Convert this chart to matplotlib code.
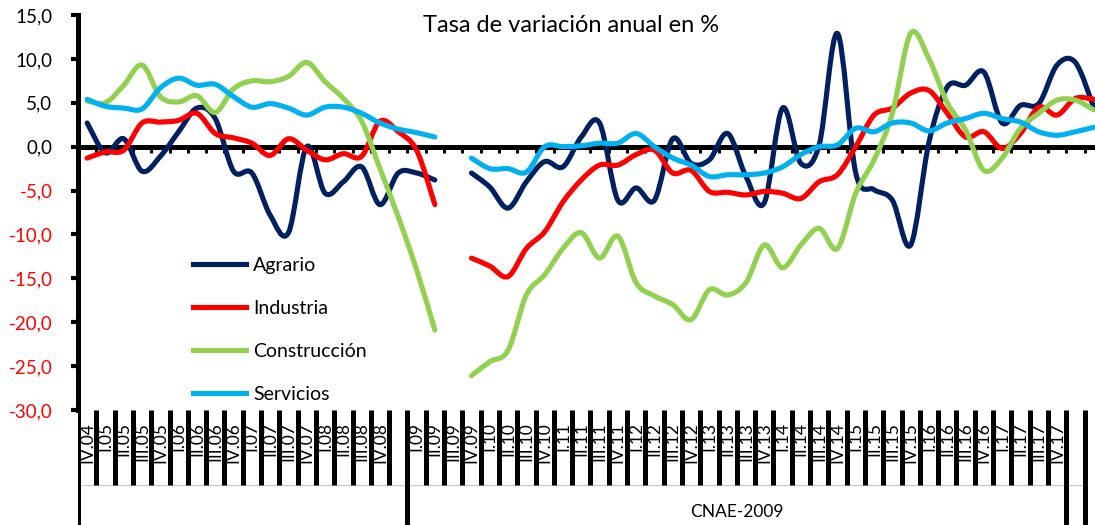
import numpy as np
import matplotlib.pyplot as plt
from matplotlib.path import Path
from matplotlib.patches import PathPatch
from matplotlib.lines import Line2D

plt.rcParams['font.family'] = ['Lato', 'DejaVu Sans']

nan = np.nan
# quarterly series, IV.04 ... (gap at index 20)
agrario = [2.7, -0.7, 0.9, -2.8, -1.1, 1.7, 4.4, 3.2, -2.8, -3.0,
           -7.8, -9.8, 0.0, -5.3, -4.0, -2.3, -6.6, -3.0, -3.0, -3.8,
           nan,
           -3.0, -4.6, -7.0, -4.0, -1.7, -2.3, 1.1, 2.7, -6.1, -4.7,
           -6.1, 0.9, -1.9, -1.5, 1.5, -3.4, -6.4, 4.4, -1.9, 0.2,
           12.9, -3.0, -4.9, -6.1, -11.2, 0.5, 6.8, 7.0, 8.5, 2.7,
           4.7, 4.9, 9.3, 9.6, 4.5]
industria = [-1.3, -0.6, -0.4, 2.7, 2.8, 3.0, 3.8, 1.5, 1.0, 0.4,
             -1.0, 0.9, -0.4, -1.5, -0.8, -1.1, 2.9, 1.7, -0.4, -6.6,
             nan,
             -12.7, -13.6, -14.8, -11.6, -9.7, -6.3, -3.8, -2.1, -2.1, -0.9,
             -0.4, -3.0, -2.7, -5.1, -5.2, -5.5, -5.1, -5.3, -5.9, -4.0,
             -3.2, 0.0, 3.6, 4.4, 6.1, 6.4, 3.8, 1.1, 1.7, -0.2,
             1.5, 4.5, 3.6, 5.5, 5.4]
construccion = [5.2, 5.0, 7.0, 9.3, 5.7, 5.1, 5.8, 3.9, 6.6, 7.5,
                7.4, 8.0, 9.6, 7.4, 5.5, 2.9, -2.5, -8.0, -14.0, -20.9,
                nan,
                -26.1, -24.5, -23.2, -16.9, -14.6, -11.6, -9.8, -12.7, -10.2, -15.5,
                -17.0, -18.0, -19.7, -16.3, -16.9, -15.5, -11.2, -13.8, -11.2, -9.3,
                -11.6, -5.3, -1.5, 3.8, 12.9, 10.0, 5.0, 1.9, -2.7, -1.3,
                2.1, 3.8, 5.3, 5.3, 4.2]
servicios = [5.4, 4.6, 4.4, 4.3, 6.7, 7.8, 7.0, 7.1, 5.7, 4.5,
             4.9, 4.4, 3.6, 4.5, 4.5, 3.8, 2.7, 2.0, 1.6, 1.1,
             nan,
             -1.3, -2.5, -2.5, -2.9, 0.0, 0.0, 0.1, 0.4, 0.4, 1.5,
             0.0, -1.3, -2.1, -3.4, -3.2, -3.2, -3.0, -2.3, -0.9, 0.0,
             0.2, 2.1, 1.7, 2.7, 2.7, 1.8, 2.7, 3.2, 3.8, 3.2,
             2.8, 1.7, 1.3, 1.7, 2.2]

series = ['Agrario', 'Industria', 'Construcción', 'Servicios']
colors = ['#002060', '#FF0000', '#92D050', '#00B0F0']
values = [agrario, industria, construccion, servicios]

years_a = ['04'] + [y for y in ['05', '06', '07', '08'] for _ in range(4)]
quarters_a = ['IV'] + ['I', 'II', 'III', 'IV'] * 4
labels_a = [q + '.' + y for q, y in zip(quarters_a, years_a)]
labels_b = [q + '.' + y for y in ['09', '10', '11', '12', '13', '14', '15', '16', '17']
            for q in ['I', 'II', 'III', 'IV']]
group_label = 'CNAE-2009'


def smooth_path(x, y):
    # excel-like smoothed line: cubic bezier through every point
    verts, codes = [], []
    x = np.asarray(x, float)
    y = np.asarray(y, float)
    ok = ~np.isnan(y)
    i = 0
    n = len(y)
    while i < n:
        if not ok[i]:
            i += 1
            continue
        j = i
        while j < n and ok[j]:
            j += 1
        px, py = x[i:j], y[i:j]
        m = len(px)
        verts.append((px[0], py[0]))
        codes.append(Path.MOVETO)
        for k in range(m - 1):
            k0 = max(k - 1, 0)
            k3 = min(k + 2, m - 1)
            c1 = (px[k] + (px[k + 1] - px[k0]) / 6, py[k] + (py[k + 1] - py[k0]) / 6)
            c2 = (px[k + 1] - (px[k3] - px[k]) / 6, py[k + 1] - (py[k3] - py[k]) / 6)
            verts += [c1, c2, (px[k + 1], py[k + 1])]
            codes += [Path.CURVE4] * 3
        i = j
    return Path(verts, codes)


W, H = 1095, 525
fig = plt.figure(figsize=(W / 100, H / 100), dpi=100)
step = 18.3
x0, xr, ytop, ybot = 78, 1095, 15, 410
ncat = (xr - x0) / step
ax = fig.add_axes([x0 / W, 1 - ybot / H, (xr - x0) / W, (ybot - ytop) / H])
ax.set_xlim(0, ncat)
ax.set_ylim(-30, 15)

xs = np.arange(len(agrario)) + 0.5
for name, col, v in zip(series, colors, values):
    ax.add_patch(PathPatch(smooth_path(xs, v), fill=False, ec=col, lw=3.7,
                           capstyle='round', joinstyle='round', zorder=3))

for s in ['top', 'right']:
    ax.spines[s].set_visible(False)
ax.spines['left'].set_linewidth(3.6)
ax.spines['bottom'].set_position(('data', 0))
ax.spines['bottom'].set_linewidth(3.6)
ax.spines['bottom'].set_zorder(2)
ax.set_xticks(np.arange(0, 56))
ax.tick_params(axis='x', direction='out', length=4.2, width=2.2, labelbottom=False)
yt = np.arange(-30, 16, 5)
ax.set_yticks(yt)
ax.set_yticklabels([('%.1f' % v).replace('.', ',') for v in yt], fontsize=13.5)
ax.tick_params(axis='y', direction='out', length=5.4, width=3, pad=13)
for t, v in zip(ax.get_yticklabels(), yt):
    t.set_color('red' if v < 0 else 'black')

handles = [Line2D([], [], color=c, lw=3.7) for c in colors]
ax.legend(handles, series, loc='upper left', bbox_to_anchor=(193 / W, 1 - 257 / H),
          bbox_transform=fig.transFigure, frameon=False, fontsize=14,
          handlelength=2.7, handletextpad=0.4, labelspacing=1.33,
          borderpad=0, borderaxespad=0)

fig.text(571 / W, 1 - 25 / H, 'Tasa de variación anual en %', fontsize=17,
         ha='center', va='center')

# category label area
axl = fig.add_axes([x0 / W, 0, (xr - x0) / W, (H - ybot) / H])
axl.set_xlim(0, ncat)
axl.set_ylim(0, H - ybot)
axl.axis('off')
full = [0, 18, 54, 55]
inner = [k for k in range(1, 54) if k not in full]
axl.vlines(inner, 40, H - ybot, color='black', lw=3.6, zorder=3)
axl.vlines(full, 0, H - ybot, color='black', lw=3.6, zorder=3)
axl.hlines(40, 0, 55, color='#c8c8c8', lw=0.8, zorder=1)
for k, lab in enumerate(labels_a):
    axl.text(k + 0.5, 103, lab, rotation=90, ha='center', va='top', fontsize=12.5, zorder=2)
for k, lab in enumerate(labels_b):
    axl.text(k + 18.5, 103, lab, rotation=90, ha='center', va='top', fontsize=12.5, zorder=2)
axl.text(36, 13, group_label, ha='center', va='center', fontsize=12.5)

fig.savefig('out.png', dpi=100)
